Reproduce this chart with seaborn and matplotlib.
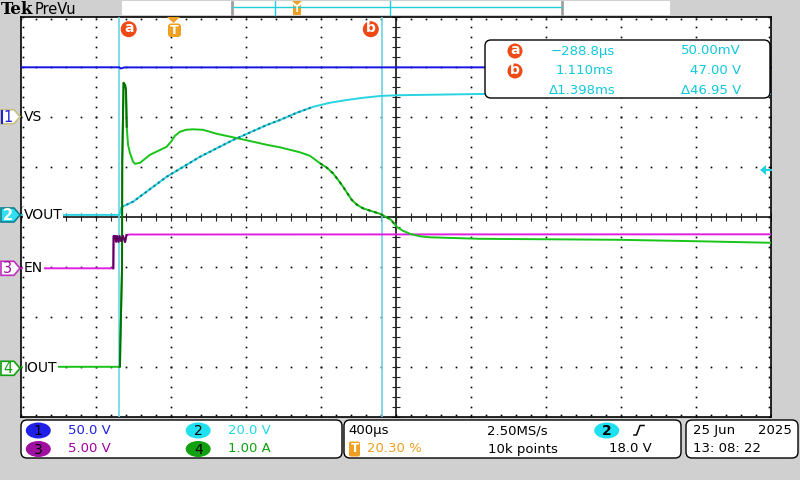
import numpy as np
import pandas as pd
import matplotlib
matplotlib.use("Agg")
import matplotlib.pyplot as plt
import seaborn as sns
from matplotlib.patches import FancyBboxPatch, Rectangle, Circle, Polygon, Ellipse

# ---------------- data (time in ms, values in physical units) ----------------
channels = ["VS", "VOUT", "EN", "IOUT"]
scales = [50.0, 20.0, 5.0, 1.0]            # units per division
offsets = [2.006, 0.04, -1.026, -3.026]    # ground marker position (divisions)
colors = ["#1414e6", "#28d4e2", "#e01ee0", "#18c418"]
scale_labels = ["50.0 V", "20.0 V", "5.00 V", "1.00 A"]

t_vs = [-0.82, -0.290, -0.282, -0.262, 3.19]
vs_v = [49.4, 49.4, 48.2, 49.3, 49.4]

t_vout = [-0.82, -0.2885, -0.278, -0.2165, -0.037, 0.141, 0.317, 0.497, 0.567,
          0.657, 0.745, 0.834, 0.923, 1.012, 1.101, 1.190, 1.278, 1.634, 3.19]
vout_v = [0.05, 0.05, 3.2, 5.3, 15.3, 23.3, 30.0, 36.0, 38.0,
          40.9, 43.3, 44.9, 46.0, 46.9, 47.6, 47.9, 48.0, 48.4, 48.4]

t_en = [-0.82, -0.3216, -0.320, -0.3125, -0.307, -0.302, -0.294, -0.2885,
        -0.2805, -0.270, -0.259, -0.251, -0.2325, 3.19]
en_v = [0.0, 0.0, 3.23, 3.23, 2.66, 3.23, 2.63, 3.23,
        2.73, 3.23, 2.63, 3.33, 3.38, 3.40]

t_iout = [-0.82, -0.2885, -0.286, -0.284, -0.275, -0.274, -0.267, -0.259, -0.254,
          -0.250, -0.243, -0.233, -0.216, -0.206, -0.179, -0.126, -0.037, -0.010,
          0.007, 0.034, 0.066, 0.103, 0.157, 0.230, 0.354, 0.497, 0.567, 0.674,
          0.727, 0.781, 0.818, 0.850, 0.877, 0.904, 0.925, 0.950, 0.978, 1.010,
          1.058, 1.101, 1.137, 1.159, 1.190, 1.223, 1.261, 1.314, 1.367, 1.634,
          2.007, 2.381, 2.807, 3.19]
iout_a = [0.03, 0.03, 0.03, 0.51, 2.03, 4.11, 5.71, 5.67, 5.57,
          4.83, 4.47, 4.31, 4.13, 4.09, 4.11, 4.27, 4.43, 4.55,
          4.65, 4.73, 4.77, 4.78, 4.77, 4.69, 4.59, 4.47, 4.42, 4.32,
          4.25, 4.10, 4.01, 3.90, 3.77, 3.63, 3.51, 3.37, 3.27, 3.20,
          3.14, 3.09, 3.02, 2.97, 2.83, 2.75, 2.69, 2.64, 2.62, 2.59,
          2.58, 2.57, 2.54, 2.51]

cursor_a = -0.2888
cursor_b = 1.110
t_left, t_right = -0.8139, 3.1861
div_t = 0.4

# ---------------- build table ----------------
frames = []
for name, tt, vv, sc, off in zip(channels, [t_vs, t_vout, t_en, t_iout],
                                 [vs_v, vout_v, en_v, iout_a], scales, offsets):
    frames.append(pd.DataFrame({"t": tt, "div": np.array(vv) / sc + off, "ch": name}))
df = pd.concat(frames, ignore_index=True)

# ---------------- figure ----------------
W, H = 800, 480
fig = plt.figure(figsize=(8, 4.8), dpi=100, facecolor="#d0d0d0")


def px_rect(x0, y0, x1, y1):
    return [x0 / W, 1 - y1 / H, (x1 - x0) / W, (y1 - y0) / H]


ax = fig.add_axes(px_rect(21, 17, 771, 417))
ax.set_facecolor("white")
ax.set_xlim(t_left, t_right)
ax.set_ylim(-4, 4)
ax.set_xticks([])
ax.set_yticks([])
for s in ax.spines.values():
    s.set_color("black")
    s.set_linewidth(1.2)

# graticule
t_center = t_left + 5 * div_t
ys = np.arange(-4, 4.001, 0.2)
xs = np.arange(t_left, t_right + 1e-6, 0.08)
for j in range(1, 10):
    if j == 5:
        continue
    xm = t_left + div_t * j
    ax.plot([xm] * len(ys), ys, ls="none", marker="s", ms=1.2, mew=0, color="black", zorder=1)
for ym in [-3, -2, -1, 1, 2, 3]:
    ax.plot(xs, [ym] * len(xs), ls="none", marker="s", ms=1.2, mew=0, color="black", zorder=1)
for yb in [3.955, -3.955]:
    ax.plot(xs, [yb] * len(xs), ls="none", marker="s", ms=1.2, mew=0, color="black", zorder=1)
for xb in [t_left + 0.011, t_right - 0.011]:
    ax.plot([xb] * len(ys), ys, ls="none", marker="s", ms=1.2, mew=0, color="black", zorder=1)
ax.axhline(0, color="black", lw=1.1, zorder=1)
ax.axvline(t_center, color="black", lw=1.1, zorder=1)
ax.plot(xs, [0] * len(xs), ls="none", marker="|", ms=5.5, mew=0.8, color="#222222", zorder=1)
ax.plot([t_center] * len(ys), ys, ls="none", marker="_", ms=5.5, mew=0.8, color="#222222", zorder=1)

# cursors
ax.axvline(cursor_a, color="#6cd4e4", lw=1.2, zorder=3)
ax.axvline(cursor_b, color="#6cd4e4", lw=1.2, zorder=3)

# traces
pal = dict(zip(channels, colors))
sns.lineplot(data=df, x="t", y="div", hue="ch", hue_order=channels, palette=pal,
             estimator=None, sort=False, legend=False, linewidth=1.4, ax=ax, zorder=4)
# darker sampling texture
sub = df[(df.ch == "VOUT") & (df.t > -0.28) & (df.t < 0.8)]
sns.lineplot(data=sub, x="t", y="div", estimator=None, sort=False, color="#137f90",
             linewidth=1.4, ax=ax, zorder=4.5, linestyle=(0, (1.2, 1.6)))
sub = df[(df.ch == "IOUT") & (df.t > -0.29) & (df.t < -0.245)]
sns.lineplot(data=sub, x="t", y="div", estimator=None, sort=False, color="#007000",
             linewidth=1.4, ax=ax, zorder=4.6)
sub = df[(df.ch == "EN") & (df.t > -0.322) & (df.t < -0.245)]
sns.lineplot(data=sub, x="t", y="div", estimator=None, sort=False, color="#5a005a",
             linewidth=1.4, ax=ax, zorder=4.6)
sub = df[(df.ch == "IOUT") & (df.t > 0.75) & (df.t < 1.2)]
sns.lineplot(data=sub, x="t", y="div", estimator=None, sort=False, color="#0a7a0a",
             linewidth=1.4, ax=ax, zorder=4.6, linestyle=(0, (1.5, 2.0)))
ax.set_xlabel("")
ax.set_ylabel("")

# ---------------- overlay (pixel coordinates) ----------------
ov = fig.add_axes([0, 0, 1, 1], zorder=5)
ov.set_xlim(0, W)
ov.set_ylim(H, 0)
ov.axis("off")
ov.patch.set_alpha(0)

# header
ov.text(1, 9, "Tek", fontsize=12, fontweight="bold", family="DejaVu Serif", va="center", ha="left")
ov.text(35, 9, "PreVu", fontsize=10.5, va="center", ha="left")
ov.add_patch(Rectangle((122, 1), 548, 14, fc="white", ec="none"))
ov.plot([232, 232], [2, 14], color="#a0a0a0", lw=2)
ov.plot([562, 562], [2, 14], color="#a0a0a0", lw=2)
ov.plot([233, 561], [7, 7], color="#20d0d8", lw=1)
ov.plot([275, 275], [1, 15], color="#20d0d8", lw=1)
ov.plot([390, 390], [1, 15], color="#20d0d8", lw=1)
ov.add_patch(Polygon([[292, 1], [302, 1], [297, 5]], closed=True, fc="#f0a020", ec="none"))
ov.add_patch(Rectangle((293, 5), 8, 10, fc="#f0a020", ec="none"))
ov.text(297, 10, "T", color="white", fontsize=6.5, fontweight="bold", ha="center", va="center")

# trigger position marker in graticule
ov.add_patch(Polygon([[167, 17], [180, 17], [173.5, 23]], closed=True, fc="#f0a020", ec="none"))
ov.add_patch(FancyBboxPatch((168, 23.5), 13, 13.5, boxstyle="round,pad=0,rounding_size=3",
                            fc="#f0a020", ec="none"))
ov.text(174.5, 30.5, "T", color="white", fontsize=9, fontweight="bold", ha="center", va="center")

# cursor badges
for cx, lab in [(128.7, "a"), (370.8, "b")]:
    ov.add_patch(Circle((cx, 29.2), 8, fc="#f04a14", ec="none"))
    ov.text(cx, 28.5, lab, color="white", fontsize=10, fontweight="bold", ha="center", va="center")

# trigger level arrow
ov.add_patch(Polygon([[760, 170], [766, 165], [766, 175]], closed=True, fc="#20d0e0", ec="none"))
ov.plot([765, 771], [170, 170], color="#20d0e0", lw=1.5)

# channel ground markers and labels
marker_y = [217 - o * 50 for o in offsets]
marker_fc = ["white", "#30e0f0", "white", "white"]
marker_ec = ["#c8c080", "#108090", "#c030c0", "#10a010"]
marker_tc = ["#2020e0", "white", "#a010a0", "#10a010"]
for i, c in enumerate(marker_y):
    ov.add_patch(Polygon([[1, c - 7], [14, c - 7], [20, c], [14, c + 7], [1, c + 7]],
                         closed=True, fc=marker_fc[i], ec=marker_ec[i], lw=1.2))
    ov.text(8, c + 0.5, str(i + 1), color=marker_tc[i], fontsize=10.5, ha="center", va="center",
            fontweight="bold" if i == 1 else "normal")
    ov.text(24, c, channels[i], color="black", fontsize=10, ha="left", va="center",
            bbox=dict(fc="white", ec="none", pad=0.5))
ov.plot([2, 2], [marker_y[0] - 6, marker_y[0] + 6], color="#2020e0", lw=1.5)

# cursor readout box
ov.add_patch(FancyBboxPatch((485, 40), 285, 58, boxstyle="round,pad=0,rounding_size=6",
                            fc="white", ec="black", lw=1))
for cy, lab in [(51, "a"), (71, "b")]:
    ov.add_patch(Circle((515, cy), 7.5, fc="#f04a14", ec="none"))
    ov.text(515, cy - 0.5, lab, color="white", fontsize=10, fontweight="bold", ha="center", va="center")
rc = "#10c8dc"
fs = 9.5
ov.text(551, 51, "\u2212288.8\u00b5s", color=rc, fontsize=fs, va="center", ha="left")
ov.text(741, 51, "50.00mV", color=rc, fontsize=fs, va="center", ha="right")
ov.text(556, 71, "1.110ms", color=rc, fontsize=fs, va="center", ha="left")
ov.text(741, 71, "47.00 V", color=rc, fontsize=fs, va="center", ha="right")
ov.text(549, 90, "\u03941.398ms", color=rc, fontsize=fs, va="center", ha="left")
ov.text(741, 90, "\u039446.95 V", color=rc, fontsize=fs, va="center", ha="right")

# bottom status boxes
for x0, x1 in [(21, 342), (344, 681), (686, 798)]:
    ov.add_patch(FancyBboxPatch((x0, 420), x1 - x0, 38, boxstyle="round,pad=0,rounding_size=6",
                                fc="white", ec="black", lw=1))
badge_fc = ["#2020e8", "#20e0f0", "#a010a0", "#10a010"]
badge_pos = [(38.3, 430.5), (198.2, 430.5), (38.3, 449), (198.2, 449)]
text_col = ["#2020e0", "#20d8e8", "#a000a0", "#10a010"]
for i in range(4):
    bx, by = badge_pos[i]
    ov.add_patch(Ellipse((bx, by), 25, 16, fc=badge_fc[i], ec="none"))
    ov.text(bx, by + 0.5, str(i + 1), color="black", fontsize=10, ha="center", va="center")
    ov.text(bx + 29.5, by, scale_labels[i], color=text_col[i], fontsize=9.5, ha="left", va="center")

bfs = 9.5
ov.text(348, 430.5, "400\u00b5s", color="black", fontsize=bfs, ha="left", va="center")
ov.add_patch(FancyBboxPatch((349, 441.5), 11, 15, boxstyle="round,pad=0,rounding_size=2",
                            fc="#f0a020", ec="none"))
ov.text(354.5, 449, "T", color="white", fontsize=8.5, fontweight="bold", ha="center", va="center")
ov.text(367, 449, "20.30 %", color="#f0a020", fontsize=bfs, ha="left", va="center")
ov.text(487, 430.5, "2.50MS/s", color="black", fontsize=bfs, ha="left", va="center")
ov.text(488, 449, "10k points", color="black", fontsize=bfs, ha="left", va="center")
ov.add_patch(Ellipse((606.7, 430.5), 25, 16, fc="#20e0f0", ec="none"))
ov.text(606.7, 431, "2", color="black", fontsize=10, fontweight="bold", ha="center", va="center")
ov.plot([634, 636.5, 640, 644], [435, 435, 425.5, 425.5], color="black", lw=1.1)
ov.text(609, 449, "18.0 V", color="black", fontsize=bfs, ha="left", va="center")
ov.text(693, 430.5, "25 Jun", color="black", fontsize=bfs, ha="left", va="center")
ov.text(792, 430.5, "2025", color="black", fontsize=bfs, ha="right", va="center")
ov.text(693, 449, "13: 08: 22", color="black", fontsize=bfs, ha="left", va="center")

fig.savefig("out.png", dpi=100, facecolor=fig.get_facecolor())
